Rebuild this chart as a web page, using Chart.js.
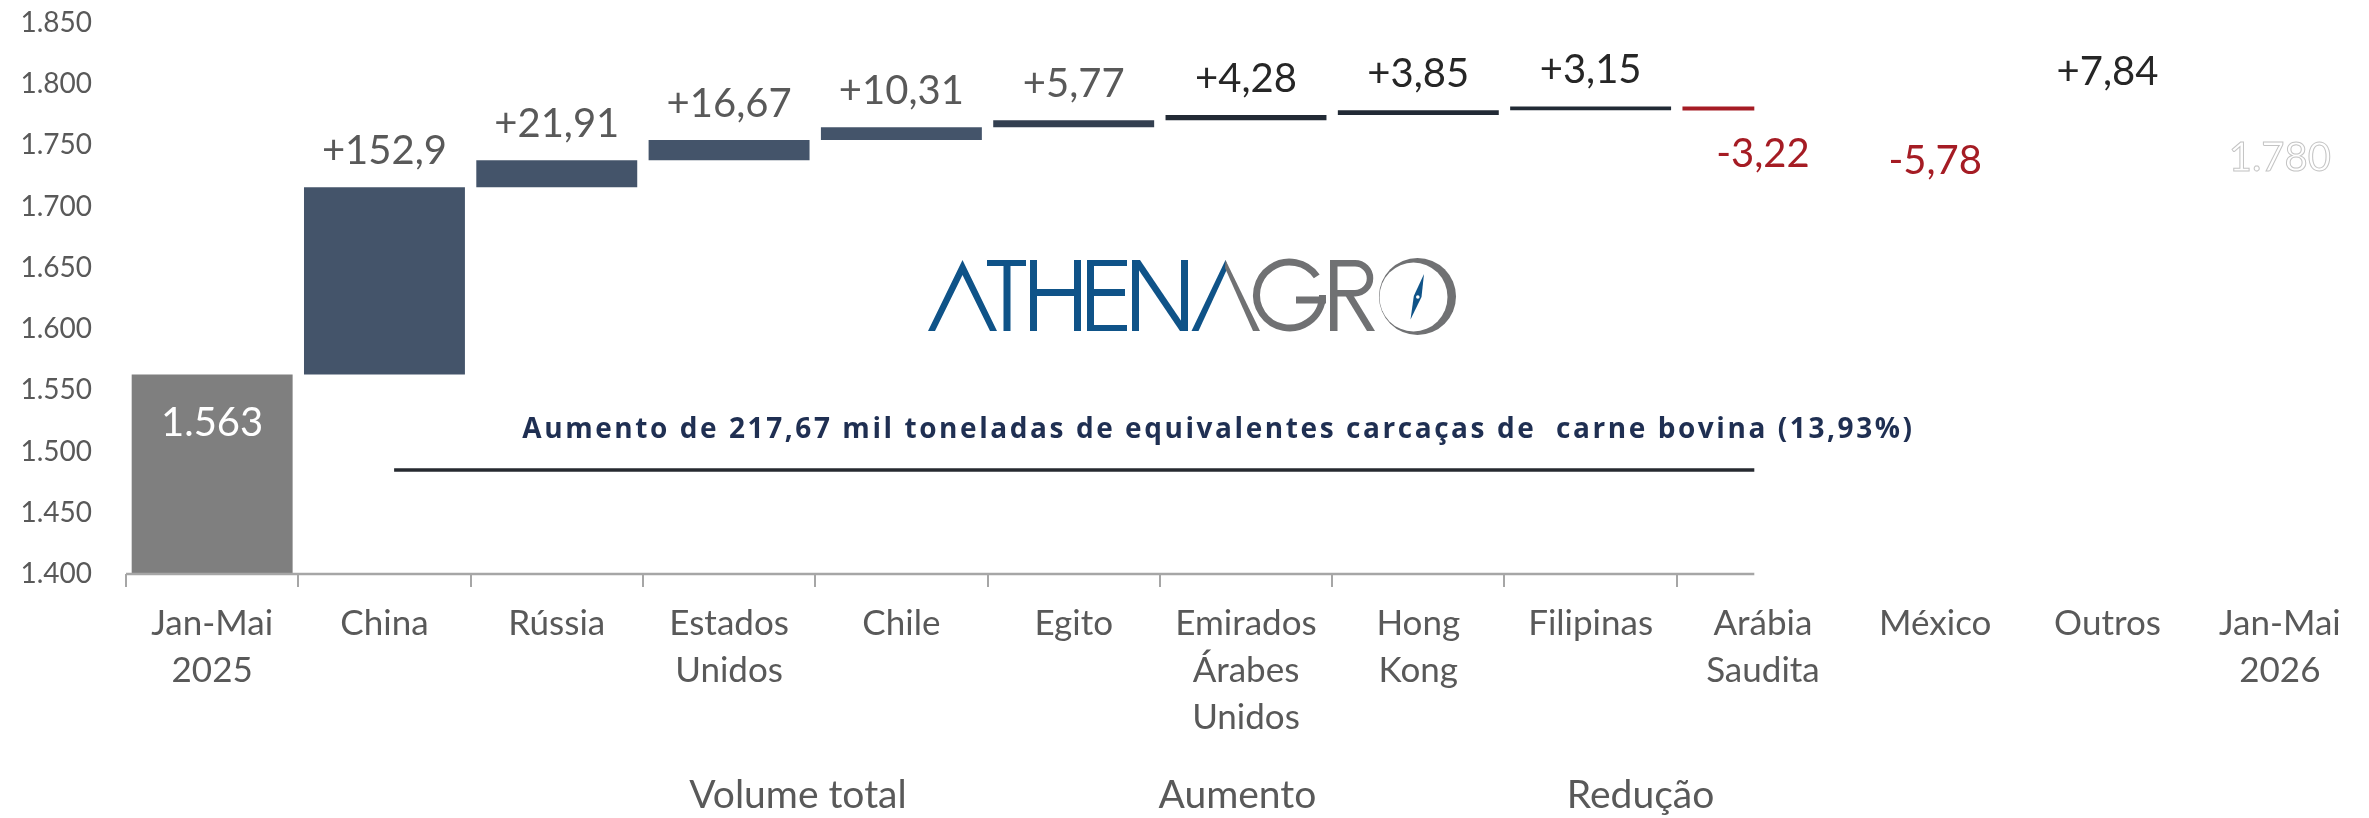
<!DOCTYPE html>
<html><head><meta charset="utf-8">
<script src="https://cdn.jsdelivr.net/npm/chart.js@4.4.1/dist/chart.umd.min.js"></script>
<style>html,body{margin:0;padding:0;background:#fff;}canvas{display:block;}</style>
</head><body>
<canvas id="c" width="2369" height="818"></canvas>
<script>
// ---------- DATA ----------
const categories = [['Jan-Mai','2025'],'China','Rússia',['Estados','Unidos'],'Chile','Egito',['Emirados','Árabes','Unidos'],['Hong','Kong'],'Filipinas',['Arábia','Saudita'],'México','Outros',['Jan-Mai','2026']];
const startTotal = 1563;
const endTotal = 1780;
const deltas = [152.9, 21.91, 16.67, 10.31, 5.77, 4.28, 3.85, 3.15, -3.22, -5.78, 7.84];
const yTickValues = [1400,1450,1500,1550,1600,1650,1700,1750,1800,1850];
const yTickLabels = ['1.400','1.450','1.500','1.550','1.600','1.650','1.700','1.750','1.800','1.850'];
const groupLabels = ['Volume total','Aumento','Redução'];
const noteText = 'Aumento de 217,67 mil toneladas de equivalentes carcaças de  carne bovina (13,93%)';

// ---------- STYLE ----------
const FONT = 'Lato, "Open Sans", sans-serif';
const NOTE_FONT = '"Open Sans", Lato, sans-serif';
const barColors = ['#7F7F7F','#44546A','#44546A','#44546A','#44546A','#333F50','#222A35','#222A35','#222A35','#A51C24','#A51C24','#222A35','#7F7F7F'];
const labelColors = ['#FFFFFF','#595959','#595959','#595959','#595959','#595959','#262626','#262626','#262626','#A51C24','#A51C24','#262626','#FFFFFF'];
const cutoffAt = 8.95;          // plot area drawn only up to here (category units)
const groupAt = [3.4, 5.95, 8.29];
const noteAt = 5.84, noteLineFrom = 1.056, noteWidth = 1390;

// ---------- DERIVED ----------
const ranges = [[0, startTotal]];
let run = startTotal;
deltas.forEach(d => { ranges.push([run, run + d]); run += d; });
ranges.push([0, endTotal]);
const fmtTotal = v => String(Math.round(v)).replace(/\B(?=(\d{3})+(?!\d))/g, '.');
const fmtDelta = v => (v > 0 ? '+' : '-') + String(Math.abs(v)).replace('.', ',');
const labelTexts = [fmtTotal(startTotal), ...deltas.map(fmtDelta), fmtTotal(endTotal)];
const kinds = ['total', ...deltas.map(d => d >= 0 ? 'up' : 'down'), 'ghost'];

function poly(ctx, pts){ ctx.beginPath(); ctx.moveTo(pts[0][0], pts[0][1]); for (let i=1;i<pts.length;i++) ctx.lineTo(pts[i][0], pts[i][1]); ctx.closePath(); ctx.fill(); }

function drawLogo(ctx){
  const B = '#0F5388', G = '#707173';
  ctx.save();
  ctx.fillStyle = B;
  poly(ctx, [[928,331],[962.5,260],[997,331],[990,331],[962.5,275],[935,331]]);
  ctx.fillRect(987,260,39,6); ctx.fillRect(1003.5,260,7,71);
  ctx.fillRect(1030,260,7,71); ctx.fillRect(1074,260,7,71); ctx.fillRect(1030,289,51,7);
  ctx.fillRect(1087,260,7,71); ctx.fillRect(1087,260,40,6); ctx.fillRect(1087,289,38,7); ctx.fillRect(1087,325,40,6);
  ctx.fillRect(1132,260,7,71); ctx.fillRect(1181,260,7,71);
  poly(ctx, [[1132,260],[1140,260],[1188,331],[1180,331]]);
  poly(ctx, [[1191.5,331],[1225.5,260],[1228,267],[1198.5,331]]);
  ctx.fillStyle = G;
  poly(ctx, [[1225.5,260],[1260,331],[1253,331],[1225,268]]);
  ctx.strokeStyle = G; ctx.lineWidth = 7;
  ctx.beginPath(); ctx.arc(1289.5,295,33,-0.6,0,true); ctx.stroke();
  ctx.fillRect(1296,296.5,30,7);
  ctx.fillRect(1330,260,7.5,71);
  ctx.lineWidth = 6.5;
  ctx.beginPath(); ctx.moveTo(1333,263.2); ctx.lineTo(1355,263.2); ctx.arc(1355,278.2,15,-Math.PI/2,Math.PI/2,false); ctx.lineTo(1333,293.2); ctx.stroke();
  poly(ctx, [[1345,295],[1353,295],[1375,331],[1367,331]]);
  ctx.beginPath(); ctx.ellipse(1417.5,296.5,38.5,38.5,0,0,2*Math.PI); ctx.fill();
  ctx.fillStyle = '#fff';
  ctx.beginPath(); ctx.ellipse(1413.5,297,34,34.5,0,0,2*Math.PI); ctx.fill();
  ctx.fillStyle = B;
  poly(ctx, [[1424,274],[1421.5,297],[1410.5,319.5],[1413.8,296]]);
  ctx.fillStyle = '#fff';
  ctx.beginPath(); ctx.arc(1417.8,297,1.8,0,2*Math.PI); ctx.fill();
  ctx.restore();
}

const clipPlugin = {
  id: 'clipCut',
  beforeDatasetsDraw(chart){
    const {ctx, chartArea: a, scales: {x}} = chart;
    const cut = x.getPixelForValue(cutoffAt);
    ctx.save(); ctx.beginPath(); ctx.rect(a.left, a.top - 40, cut - a.left, a.bottom - a.top + 40); ctx.clip();
  },
  afterDatasetsDraw(chart){ chart.ctx.restore(); }
};

const overlayPlugin = {
  id: 'overlay',
  afterDraw(chart){
    const {ctx, chartArea: a, scales: {x, y}} = chart;
    const cut = x.getPixelForValue(cutoffAt);
    ctx.save();
    ctx.strokeStyle = '#A6A6A6'; ctx.lineWidth = 2.5;
    ctx.beginPath(); ctx.moveTo(a.left, a.bottom); ctx.lineTo(cut, a.bottom); ctx.stroke();
    const meta = chart.getDatasetMeta(0);
    ctx.font = '40px ' + FONT; ctx.textAlign = 'center'; ctx.textBaseline = 'alphabetic';
    meta.data.forEach((el, i) => {
      const top = Math.min(el.y, el.base), bot = Math.max(el.y, el.base);
      const k = kinds[i];
      let by;
      if (k === 'up') by = top - 23;
      else if (k === 'down') by = bot + 57;
      else by = top + 62;
      ctx.fillStyle = labelColors[i];
      ctx.fillText(labelTexts[i], el.x, by);
      if (k === 'ghost') { ctx.strokeStyle = '#C4C4C4'; ctx.lineWidth = 1; ctx.strokeText(labelTexts[i], el.x, by); }
    });
    ctx.strokeStyle = '#262A30'; ctx.lineWidth = 3.5;
    const ly = y.getPixelForValue(1485);
    ctx.beginPath(); ctx.moveTo(x.getPixelForValue(noteLineFrom), ly); ctx.lineTo(cut, ly); ctx.stroke();
    ctx.font = 'bold 28px ' + NOTE_FONT; ctx.fillStyle = '#1F2F52';
    ctx.letterSpacing = '0px';
    const w0 = ctx.measureText(noteText).width;
    ctx.letterSpacing = Math.max(0, (noteWidth - w0) / (noteText.length - 1)).toFixed(2) + 'px';
    ctx.fillText(noteText, x.getPixelForValue(noteAt), y.getPixelForValue(1511));
    ctx.letterSpacing = '0px';
    ctx.font = '39px ' + FONT; ctx.fillStyle = '#595959';
    groupLabels.forEach((g, i) => ctx.fillText(g, x.getPixelForValue(groupAt[i]), a.bottom + 234));
    ctx.restore();
    drawLogo(ctx);
  }
};

const gridColor = c => (c.index !== undefined && c.index <= 9) ? '#A6A6A6' : 'rgba(0,0,0,0)';

new Chart(document.getElementById('c'), {
  type: 'bar',
  data: { labels: categories, datasets: [{ data: ranges, backgroundColor: barColors, borderWidth: 0, borderSkipped: false, barPercentage: 0.934, categoryPercentage: 1 }] },
  options: {
    responsive: false, animation: false, devicePixelRatio: 1,
    layout: { padding: { top: 23, right: 3, left: 0, bottom: 0 } },
    plugins: { legend: { display: false }, tooltip: { enabled: false } },
    scales: {
      x: {
        offset: true,
        grid: { display: true, offset: true, drawOnChartArea: false, drawTicks: true, tickLength: 13, tickWidth: 2, lineWidth: 2, color: gridColor, tickColor: gridColor },
        border: { display: false },
        ticks: { font: { family: FONT, size: 35, lineHeight: 47/35 }, color: '#595959', padding: 13, autoSkip: false, maxRotation: 0, minRotation: 0 },
        afterFit(s){ s.height = 244; s.paddingLeft = 0; s.paddingRight = 0; }
      },
      y: {
        min: yTickValues[0], max: yTickValues[yTickValues.length - 1],
        grid: { display: false, drawTicks: false },
        border: { display: false },
        ticks: { stepSize: 50, font: { family: FONT, size: 28 }, color: '#595959', padding: 34,
          callback: v => { const i = yTickValues.indexOf(v); return i >= 0 ? yTickLabels[i] : ''; } },
        afterFit(s){ s.width = 126; s.paddingTop = 0; s.paddingBottom = 0; }
      }
    }
  },
  plugins: [clipPlugin, overlayPlugin]
});
</script>
</body></html>
